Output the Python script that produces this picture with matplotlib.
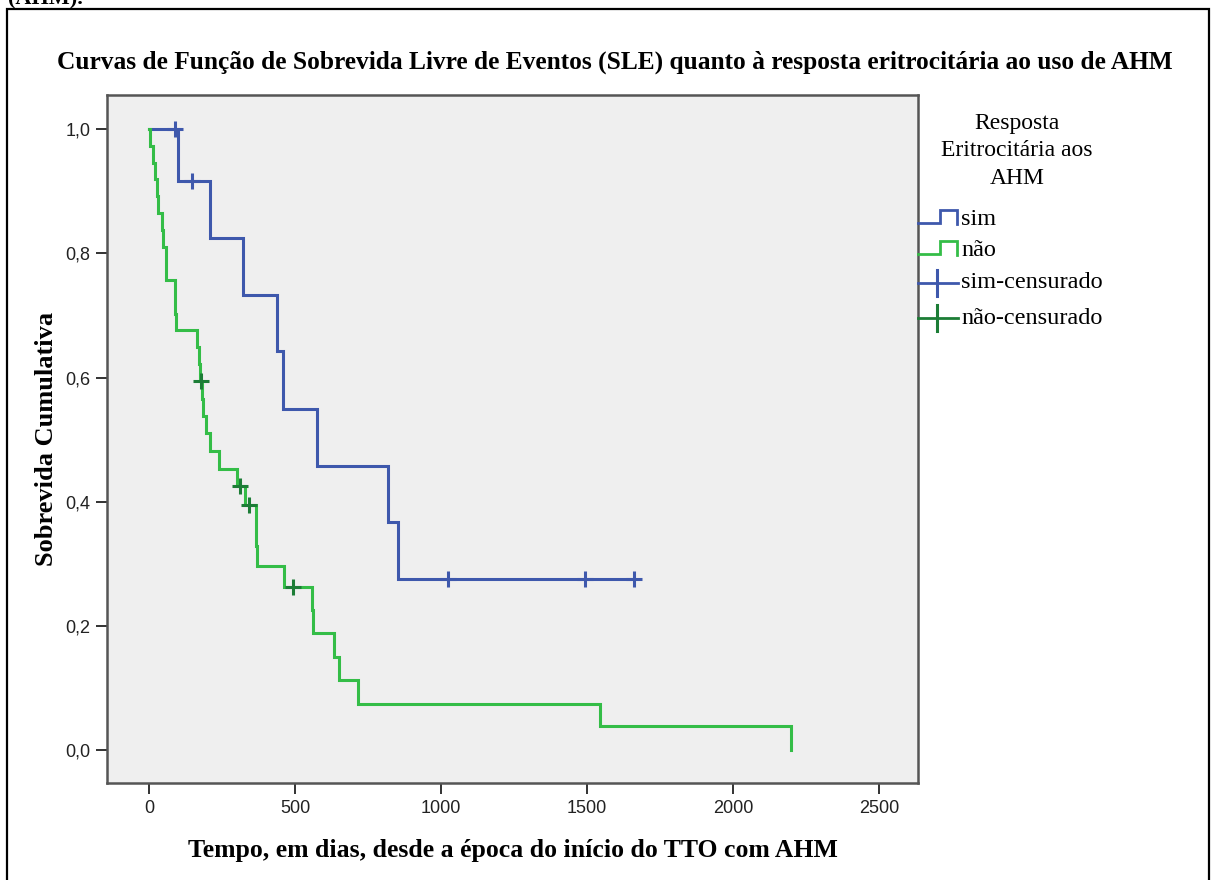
import numpy as np
import matplotlib
matplotlib.use("Agg")
import matplotlib.pyplot as plt
from matplotlib.lines import Line2D
from matplotlib.patches import Rectangle

# Kaplan-Meier steps (dias, sobrevida) e tempos censurados
sim_t = [0, 100, 209, 322, 438, 459, 575, 818, 853, 1660]
sim_s = [1.0, 0.917, 0.825, 0.733, 0.642, 0.550, 0.458, 0.367, 0.275, 0.275]
sim_cens = [89, 147, 1024, 1493, 1660]

nao_t = [0, 3, 15, 20, 26, 32, 43, 49, 58, 89, 92, 163, 170, 176, 182, 186,
         195, 209, 241, 302, 329, 366, 371, 463, 559, 563, 634, 652, 717,
         1545, 2198]
nao_s = [1.0, 0.973, 0.946, 0.919, 0.892, 0.865, 0.838, 0.811, 0.757, 0.703,
         0.676, 0.649, 0.622, 0.595, 0.566, 0.538, 0.510, 0.481, 0.453, 0.425,
         0.395, 0.329, 0.296, 0.263, 0.226, 0.188, 0.150, 0.113, 0.075, 0.038,
         0.0]
nao_cens = [178, 313, 342, 494]

x_ticks = [0, 500, 1000, 1500, 2000, 2500]
y_ticks = [0.0, 0.2, 0.4, 0.6, 0.8, 1.0]

BLUE = "#3e58ac"
GREEN = "#34bd47"
GREEN_C = "#1c7d36"
SERIF = ["Liberation Serif", "DejaVu Serif"]
NARROW = ["Liberation Sans Narrow", "Liberation Sans", "DejaVu Sans"]

W, H = 1211, 880
fig = plt.figure(figsize=(W / 100, H / 100), dpi=100)
fig.patch.set_facecolor("white")


def fx(px):
    return px / W


def fy(py):
    return 1 - py / H


ax = fig.add_axes([fx(107), fy(783), fx(918) - fx(107), fy(95) - fy(783)])
ax.set_facecolor("#efefef")


def censor_y(t, s, c):
    idx = np.searchsorted(t, c, side="right") - 1
    return np.asarray(s)[idx]


ax.step(sim_t, sim_s, where="post", color=BLUE, lw=2.2,
        solid_joinstyle="miter")
ax.step(nao_t, nao_s, where="post", color=GREEN, lw=2.2,
        solid_joinstyle="miter")
ax.plot(sim_cens, censor_y(sim_t, sim_s, sim_cens), ls="none", marker="+",
        ms=11, mew=2.2, color=BLUE)
ax.plot(nao_cens, censor_y(nao_t, nao_s, nao_cens), ls="none", marker="+",
        ms=11, mew=2.2, color=GREEN_C)

ax.set_xlim(-144, 2634)
ax.set_ylim(-0.053, 1.055)
ax.set_xticks(x_ticks)
ax.set_yticks(y_ticks)
ax.set_xticklabels([str(v) for v in x_ticks])
ax.set_yticklabels([f"{v:.1f}".replace(".", ",") for v in y_ticks])
ax.tick_params(length=8, width=1.3, color="#222222", pad=4,
               labelsize=13, labelcolor="#222222")
for lab in ax.get_xticklabels() + ax.get_yticklabels():
    lab.set_family(NARROW)
for sp in ax.spines.values():
    sp.set_color("#555555")
    sp.set_linewidth(1.8)

ax.set_xlabel("Tempo, em dias, desde a época do início do TTO com AHM",
              family=SERIF, fontweight="bold", fontsize=18.5, labelpad=16)
ax.set_ylabel("Sobrevida Cumulativa", family=SERIF, fontweight="bold",
              fontsize=19, labelpad=5)

fig.text(fx(615), fy(62),
         "Curvas de Função de Sobrevida Livre de Eventos (SLE) quanto à "
         "resposta eritrocitária ao uso de AHM",
         ha="center", va="center", family=SERIF, fontweight="bold",
         fontsize=18.3)

# texto cortado no topo e moldura externa
fig.text(fx(8), fy(4), "(AHM).", ha="left", va="baseline", family=SERIF,
         fontweight="bold", fontsize=16)
fig.add_artist(Rectangle((fx(7), fy(895)), fx(1209) - fx(7), fy(9) - fy(895),
                         transform=fig.transFigure, fill=False,
                         edgecolor="black", lw=1.6))

# legenda
fig.text(fx(1017), fy(151), "Resposta\nEritrocitária aos\nAHM", ha="center",
         va="center", family=SERIF, fontsize=17, linespacing=1.4)


def step_handle(y, color):
    xs = [918, 940, 940, 957, 957]
    ys = [y + 4, y + 4, y - 9, y - 9, y + 5]
    fig.add_artist(Line2D([fx(v) for v in xs], [fy(v) for v in ys],
                          transform=fig.transFigure, color=color, lw=2.0,
                          solid_joinstyle="miter"))


def cross_handle(y, color):
    fig.add_artist(Line2D([fx(918), fx(958)], [fy(y), fy(y)],
                          transform=fig.transFigure, color=color, lw=2.0))
    fig.add_artist(Line2D([fx(937), fx(937)], [fy(y - 13), fy(y + 13)],
                          transform=fig.transFigure, color=color, lw=2.2))


entries = [("sim", 219, BLUE, step_handle), ("não", 250, GREEN, step_handle),
           ("sim-censurado", 283, BLUE, cross_handle),
           ("não-censurado", 318, GREEN_C, cross_handle)]
for label, y, color, handle in entries:
    handle(y, color)
    fig.text(fx(961), fy(y), label, ha="left", va="center", family=SERIF,
             fontsize=17.5)

fig.savefig("out.png", dpi=100)
